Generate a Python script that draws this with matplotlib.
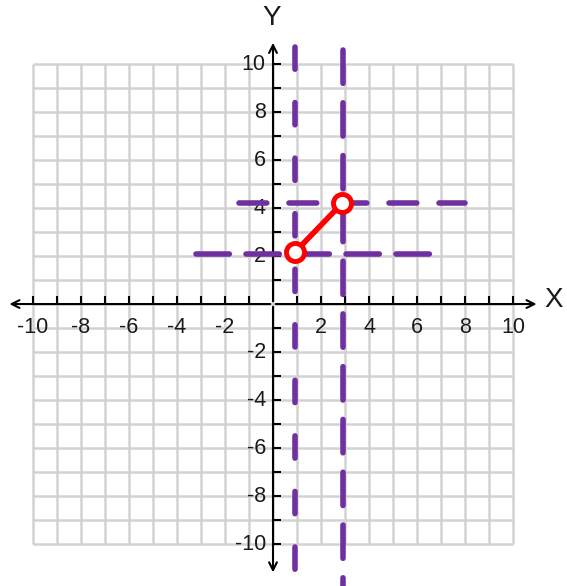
import matplotlib
matplotlib.use("Agg")
import matplotlib.pyplot as plt
import numpy as np

plt.rcParams['font.family'] = ['Liberation Sans', 'DejaVu Sans']

# grid / tick data
grid_vals = list(range(-10, 11))
tick_vals = [v for v in range(-10, 11) if v != 0]
label_vals = [-10, -8, -6, -4, -2, 2, 4, 6, 8, 10]
label_text = [str(v) for v in label_vals]

# purple dashed lines (hand drawn)
vert_x = [0.9, 2.9]
vert_y0 = [10.7, 10.6]
vert_y1 = [-11.6, -11.8]
horiz_y = [4.2, 2.1]
horiz_x0 = [-1.4, -3.2]
horiz_x1 = [8.0, 7.0]

# red segment
red_x = [0.92, 2.88]
red_y = [2.17, 4.2]

fig = plt.figure(figsize=(5.67, 5.86), dpi=100)
ax = fig.add_axes([0, 0, 1, 1])
ax.set_xlim(-11.375, 12.25)
ax.set_ylim(-11.75, 12.67)
ax.axis('off')

gcol = '#d2d2d2'
ax.vlines(grid_vals, -10, 10, color=gcol, lw=1.8, zorder=1)
ax.hlines(grid_vals, -10, 10, color=gcol, lw=1.8, zorder=1)

# axes with arrows
aprops = dict(arrowstyle='->', color='black', lw=1.5, mutation_scale=14)
ax.annotate('', xy=(-11.1, 0), xytext=(0, 0), arrowprops=aprops, zorder=3)
ax.annotate('', xy=(11.1, 0), xytext=(0, 0), arrowprops=aprops, zorder=3)
ax.annotate('', xy=(0, 11.0), xytext=(0, 0), arrowprops=aprops, zorder=3)
ax.annotate('', xy=(0, -11.3), xytext=(0, 0), arrowprops=aprops, zorder=3)

# ticks
tl = 0.35
ax.vlines(tick_vals, 0, tl, color='black', lw=1.5, zorder=3)
ax.hlines(tick_vals, 0, tl, color='black', lw=1.5, zorder=3)

tcol = '#1a1a1a'
for v, t in zip(label_vals, label_text):
    ax.text(v, -0.55, t, ha='center', va='top', fontsize=15.5, color=tcol, zorder=2)
    ax.text(-0.3, v, t, ha='right', va='center', fontsize=15.5, color=tcol, zorder=2)

ax.text(-0.05, 11.9, 'Y', ha='center', va='center', fontsize=20, color=tcol)
ax.text(11.7, 0.15, 'X', ha='center', va='center', fontsize=20, color=tcol)

purple = '#7030a0'
vert_styles = [(0, (4, 6)), (0, (6, 3.5))]
for x, a, b, ls in zip(vert_x, vert_y0, vert_y1, vert_styles):
    ax.plot([x, x], [a, b], color=purple, lw=4, dash_capstyle='round',
            linestyle=ls, zorder=4)
horiz_styles = [(0, (5, 4)), (0, (6, 3))]
for y, a, b, ls in zip(horiz_y, horiz_x0, horiz_x1, horiz_styles):
    ax.plot([a, b], [y, y], color=purple, lw=4, dash_capstyle='round',
            linestyle=ls, zorder=4)

ax.plot(red_x, red_y, color='red', lw=4, zorder=5, solid_capstyle='round')
ax.plot(red_x, red_y, 'o', ms=13, mfc='white', mec='red', mew=3.5, zorder=6)

fig.savefig('out.png', dpi=100)
